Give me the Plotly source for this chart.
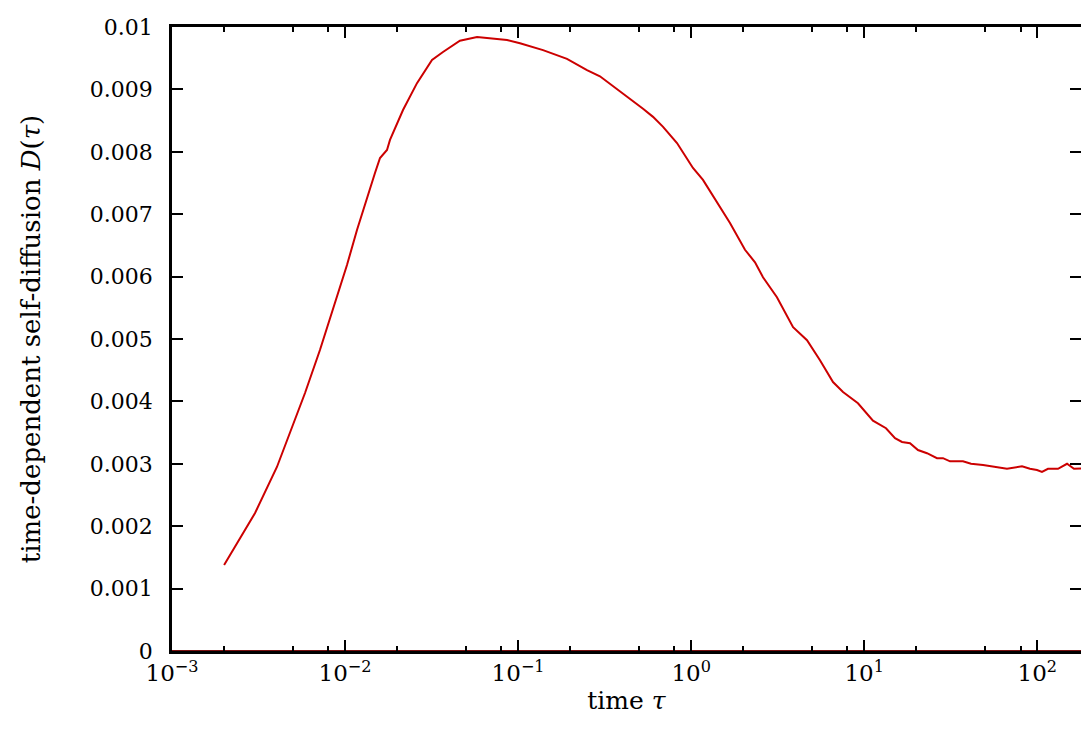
import plotly.graph_objects as go

# time tau and D(tau)
tau = [0.002, 0.00302, 0.00404, 0.00494, 0.00587, 0.00716, 0.00875, 0.01026, 0.01172, 0.01339,
       0.01489, 0.01592, 0.01747, 0.01818, 0.02162, 0.02604, 0.0318, 0.0368, 0.0461, 0.0579,
       0.0688, 0.0863, 0.1025, 0.1393, 0.1916, 0.250, 0.297, 0.388, 0.527, 0.602,
       0.688, 0.828, 1.024, 1.170, 1.410, 1.676, 2.046, 2.338, 2.60, 3.13,
       3.88, 4.67, 5.55, 6.60, 7.54, 9.20, 11.23, 13.36, 15.06, 16.53,
       18.39, 20.44, 23.05, 26.33, 28.52, 31.3, 37.2, 41.4, 48.6, 58.5,
       66.8, 81.6, 90.7, 99.6, 106.4, 115.3, 131.7, 148.5, 162.9, 190.0]
D = [0.001378, 0.002212, 0.002949, 0.003574, 0.004135, 0.004824, 0.005577, 0.006186, 0.006747, 0.007276,
     0.00766, 0.00790, 0.00803, 0.00819, 0.00867, 0.00910, 0.00947, 0.00960, 0.00978, 0.00984,
     0.00982, 0.00979, 0.00974, 0.00963, 0.00949, 0.00931, 0.00921, 0.00897, 0.00869, 0.00856,
     0.00840, 0.00814, 0.00774, 0.00755, 0.00720, 0.00686, 0.00643, 0.00623, 0.00599, 0.00567,
     0.00519, 0.00498, 0.00466, 0.00431, 0.00415, 0.00397, 0.00369, 0.00357, 0.00341, 0.00335,
     0.00333, 0.00322, 0.00317, 0.00309, 0.00309, 0.00304, 0.00304, 0.00300, 0.00298, 0.00295,
     0.00292, 0.00296, 0.00292, 0.00290, 0.00287, 0.00292, 0.00292, 0.00300, 0.00292, 0.00293]

zero_x = [0.001, 200.0]
zero_y = [0, 0]

y_ticks = [0, 0.001, 0.002, 0.003, 0.004, 0.005, 0.006, 0.007, 0.008, 0.009, 0.01]
y_labels = ["0", "0.001", "0.002", "0.003", "0.004", "0.005", "0.006", "0.007", "0.008", "0.009", "0.01"]
x_ticks = [1e-3, 1e-2, 1e-1, 1e0, 1e1, 1e2]
x_labels = ["10<sup>−3</sup>", "10<sup>−2</sup>", "10<sup>−1</sup>", "10<sup>0</sup>", "10<sup>1</sup>", "10<sup>2</sup>"]
x_minor = [m * 10.0 ** e for e in range(-3, 3) for m in (2, 5, 8)]

FONT = "DejaVu Serif"

fig = go.Figure()
fig.add_trace(go.Scatter(x=zero_x, y=zero_y, mode="lines", yaxis="y2",
                         line=dict(color="#7a1010", width=2), showlegend=False, hoverinfo="skip"))
fig.add_trace(go.Scatter(x=tau, y=D, mode="lines",
                         line=dict(color="#cc0000", width=2), showlegend=False))

fig.update_layout(
    width=1081, height=738,
    margin=dict(l=172, r=0, t=27, b=87),
    paper_bgcolor="white", plot_bgcolor="white",
    font=dict(family=FONT, size=22, color="black"),
    xaxis=dict(
        type="log", range=[-3, 2.2525], tickvals=x_ticks, ticktext=x_labels,
        showgrid=False, zeroline=False,
        showline=True, linecolor="black", linewidth=2.5, mirror="ticks",
        ticks="inside", ticklen=11, tickwidth=2, tickcolor="black",
        minor=dict(tickvals=x_minor, ticks="inside", ticklen=5, tickwidth=2, tickcolor="black", showgrid=False),
        title=dict(text="time <i>τ</i>", font=dict(size=25), standoff=7),
        tickfont=dict(size=23),
    ),
    yaxis=dict(
        range=[0, 0.01], tickvals=y_ticks, ticktext=y_labels,
        showgrid=False, zeroline=False,
        showline=True, linecolor="black", linewidth=2.5,
        ticks="inside", ticklen=11, tickwidth=2, tickcolor="black",
        ticklabelstandoff=12,
        title=dict(text="time-dependent self-diffusion <i>D</i>(<i>τ</i>)", font=dict(size=26), standoff=42),
    ),
    yaxis2=dict(
        overlaying="y", side="right", anchor="x", range=[0, 0.01], tickvals=y_ticks,
        showticklabels=False, showgrid=False, zeroline=False, showline=False,
        ticks="inside", ticklen=11, tickwidth=2, tickcolor="black",
    ),
)

fig.write_html("out.html", config={"displayModeBar": False},
               post_script="document.body.style.margin='0';")
